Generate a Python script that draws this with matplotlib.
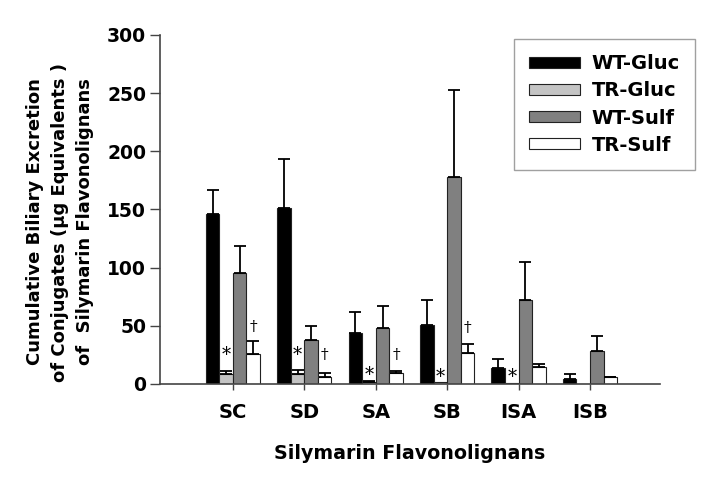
import numpy as np
import matplotlib
matplotlib.use('Agg')
import matplotlib.pyplot as plt

plt.rcParams['font.family'] = ['DejaVu Sans']
plt.rcParams['font.weight'] = 'bold'

categories = ['SC', 'SD', 'SA', 'SB', 'ISA', 'ISB']
series = ['WT-Gluc', 'TR-Gluc', 'WT-Sulf', 'TR-Sulf']

# mean values and upper error bar ends
wt_gluc = [146, 151.5, 43.5, 51, 13.5, 4.6]
wt_gluc_top = [167, 193, 62, 72, 21.5, 8.3]
tr_gluc = [8.3, 8.3, 1.7, 1.5, 1.0, 0]
tr_gluc_top = [11.5, 12, 2.5, 1.5, 1.0, 0]
wt_sulf = [95.5, 37.5, 48.5, 178, 72, 28.5]
wt_sulf_top = [118.5, 50, 67, 253, 105, 41]
tr_sulf = [25.5, 6.3, 9.2, 27, 14.3, 5.7]
tr_sulf_top = [37, 9.7, 10.9, 34.4, 17, 6.3]

values = [wt_gluc, tr_gluc, wt_sulf, tr_sulf]
tops = [wt_gluc_top, tr_gluc_top, wt_sulf_top, tr_sulf_top]
colours = ['#000000', '#c4c4c4', '#808080', '#ffffff']

# significance marks: (category index, series index, symbol, height)
marks = [(0, 1, '*', 25), (1, 1, '*', 25), (2, 1, '*', 8), (3, 1, '*', 6), (4, 1, '*', 6),
         (0, 3, '\u2020', 49), (1, 3, '\u2020', 25), (2, 3, '\u2020', 25), (3, 3, '\u2020', 48)]

fig = plt.figure(figsize=(7.1, 4.78), dpi=100)
ax = fig.add_axes([0.2254, 0.1967, 0.7042, 0.7301])

x = np.arange(len(categories))
w = 0.19
for k in range(4):
    pos = x + (k - 1.5) * w
    vals = np.array(values[k])
    up = np.array(tops[k]) - vals
    ax.bar(pos, vals, w, color=colours[k], edgecolor='#222222', linewidth=0.8,
           label=series[k], zorder=2)
    keep = up > 0
    ax.errorbar(pos[keep], vals[keep], yerr=[np.zeros(keep.sum()), up[keep]],
                fmt='none', ecolor='black', elinewidth=1.3, capsize=4.5,
                capthick=1.3, zorder=3)

for ci, si, sym, h in marks:
    ax.text(x[ci] + (si - 1.5) * w, h, sym, ha='center', va='center', fontweight='normal',
            fontsize=13 if sym == '*' else 11, family='DejaVu Serif', color='black')

ax.set_xlim(-1.02, 5.98)
ax.set_ylim(0, 300)
ax.set_yticks(np.arange(0, 301, 50))
ax.set_xticks(x)
ax.set_xticklabels(categories, fontsize=14, fontweight='bold')
for lab in ax.get_yticklabels():
    lab.set_fontsize(13.5)
    lab.set_fontweight('bold')
ax.tick_params(axis='x', direction='out', length=4.3, width=1, color='#444444', pad=9.5)
ax.tick_params(axis='y', direction='out', length=7, width=1, color='#444444', pad=3)
for s in ['top', 'right']:
    ax.spines[s].set_visible(False)
for s in ['left', 'bottom']:
    ax.spines[s].set_color('#444444')
    ax.spines[s].set_linewidth(1.2)

ax.set_xlabel('Silymarin Flavonolignans', fontsize=13.7, fontweight='bold', labelpad=15.5)
ax.set_ylabel('Cumulative Biliary Excretion\nof Conjugates (\u03bcg Equivalents )\nof  Silymarin Flavonolignans',
              fontsize=13, fontweight='bold', linespacing=1.5)
ax.yaxis.set_label_coords(-0.132, 0.464)

leg = ax.legend(loc='upper right', bbox_to_anchor=(1.07, 0.9885), borderaxespad=0,
                frameon=True, fancybox=False, edgecolor='#888888',
                prop={'weight': 'bold', 'size': 14},
                handlelength=2.6, handleheight=0.52, borderpad=0.78, labelspacing=0.42,
                handletextpad=0.6)
leg.get_frame().set_linewidth(1.0)

fig.savefig('out.png', dpi=100)
